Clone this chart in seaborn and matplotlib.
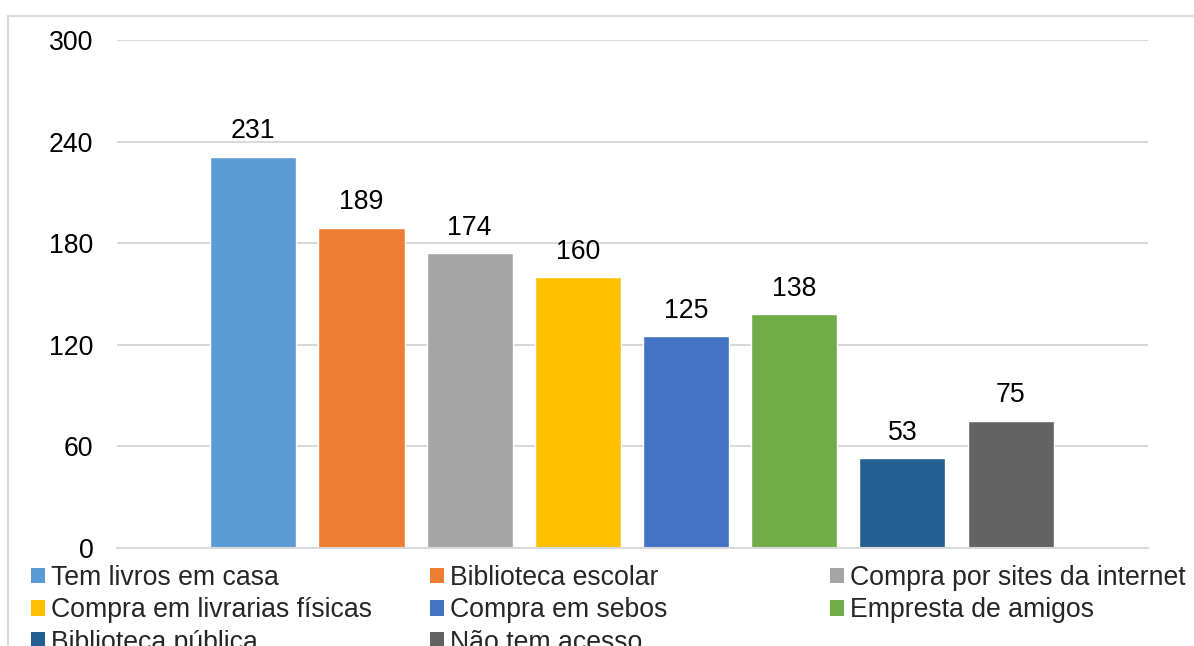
import matplotlib
matplotlib.use("Agg")
import matplotlib.pyplot as plt
import seaborn as sns
import pandas as pd
from matplotlib.patches import Patch
from matplotlib.lines import Line2D

categories = ["Tem livros em casa", "Biblioteca escolar", "Compra por sites da internet",
              "Compra em livrarias físicas", "Compra em sebos", "Empresta de amigos",
              "Biblioteca pública", "Não tem acesso"]
values = [231, 189, 174, 160, 125, 138, 53, 75]
colors = ["#5B9BD5", "#ED7D31", "#A5A5A5", "#FFC000", "#4472C4", "#70AD47", "#255E91", "#636363"]
yticks = [0, 60, 120, 180, 240, 300]

sns.set_theme(style="white")
plt.rcParams["font.family"] = ["Liberation Sans", "DejaVu Sans"]

W, H = 1194, 646
fig = plt.figure(figsize=(W / 100, H / 100), dpi=100)
ax = fig.add_axes([117 / W, 1 - 548 / H, (1148 - 117) / W, (548 - 40) / H])

df = pd.DataFrame({"cat": categories, "val": values})
sns.barplot(data=df, x="cat", y="val", hue="cat", palette=colors, order=categories,
            hue_order=categories, width=86 / 108, dodge=False, legend=False, ax=ax,
            saturation=1)

for c in ax.containers:
    ax.bar_label(c, fmt="%d", padding=9, fontsize=19.2, color="#000000")

ax.set_xlim(-1.26, 8.27)
ax.set_ylim(0, 300)
ax.set_yticks(yticks)
ax.set_yticklabels([str(t) for t in yticks], fontsize=19.2, color="#000000")
ax.set_xticks([])
ax.set_xlabel("")
ax.set_ylabel("")
ax.tick_params(axis="y", length=0, pad=17)
ax.grid(axis="y", color="#D9D9D9", linewidth=1.5)
ax.set_axisbelow(True)
for s in ["top", "right", "left"]:
    ax.spines[s].set_visible(False)
ax.spines["bottom"].set_color("#D9D9D9")
ax.spines["bottom"].set_linewidth(1.5)

# Legend: three columns, row-major order like the reference
col_x = [31, 430, 830]
groups = [[0, 3, 6], [1, 4, 7], [2, 5]]
for gx, idxs in zip(col_x, groups):
    handles = [Patch(facecolor=colors[i], edgecolor="none") for i in idxs]
    labels = [categories[i] for i in idxs]
    fig.legend(handles, labels, loc="upper left", bbox_to_anchor=(gx / W, 1 - 565 / H),
               frameon=False, fontsize=19.2, handlelength=0.53, handleheight=0.53,
               handletextpad=0.23, labelspacing=0.24, borderpad=0, borderaxespad=0)

# outer chart border (cropped at right and bottom)
fig.add_artist(Line2D([8 / W, 8 / W], [-0.1, 1 - 16 / H], transform=fig.transFigure,
                      color="#D9D9D9", linewidth=1.5))
fig.add_artist(Line2D([8 / W, 1.1], [1 - 16 / H, 1 - 16 / H], transform=fig.transFigure,
                      color="#D9D9D9", linewidth=1.5))

fig.savefig("out.png", dpi=100, facecolor="white")
